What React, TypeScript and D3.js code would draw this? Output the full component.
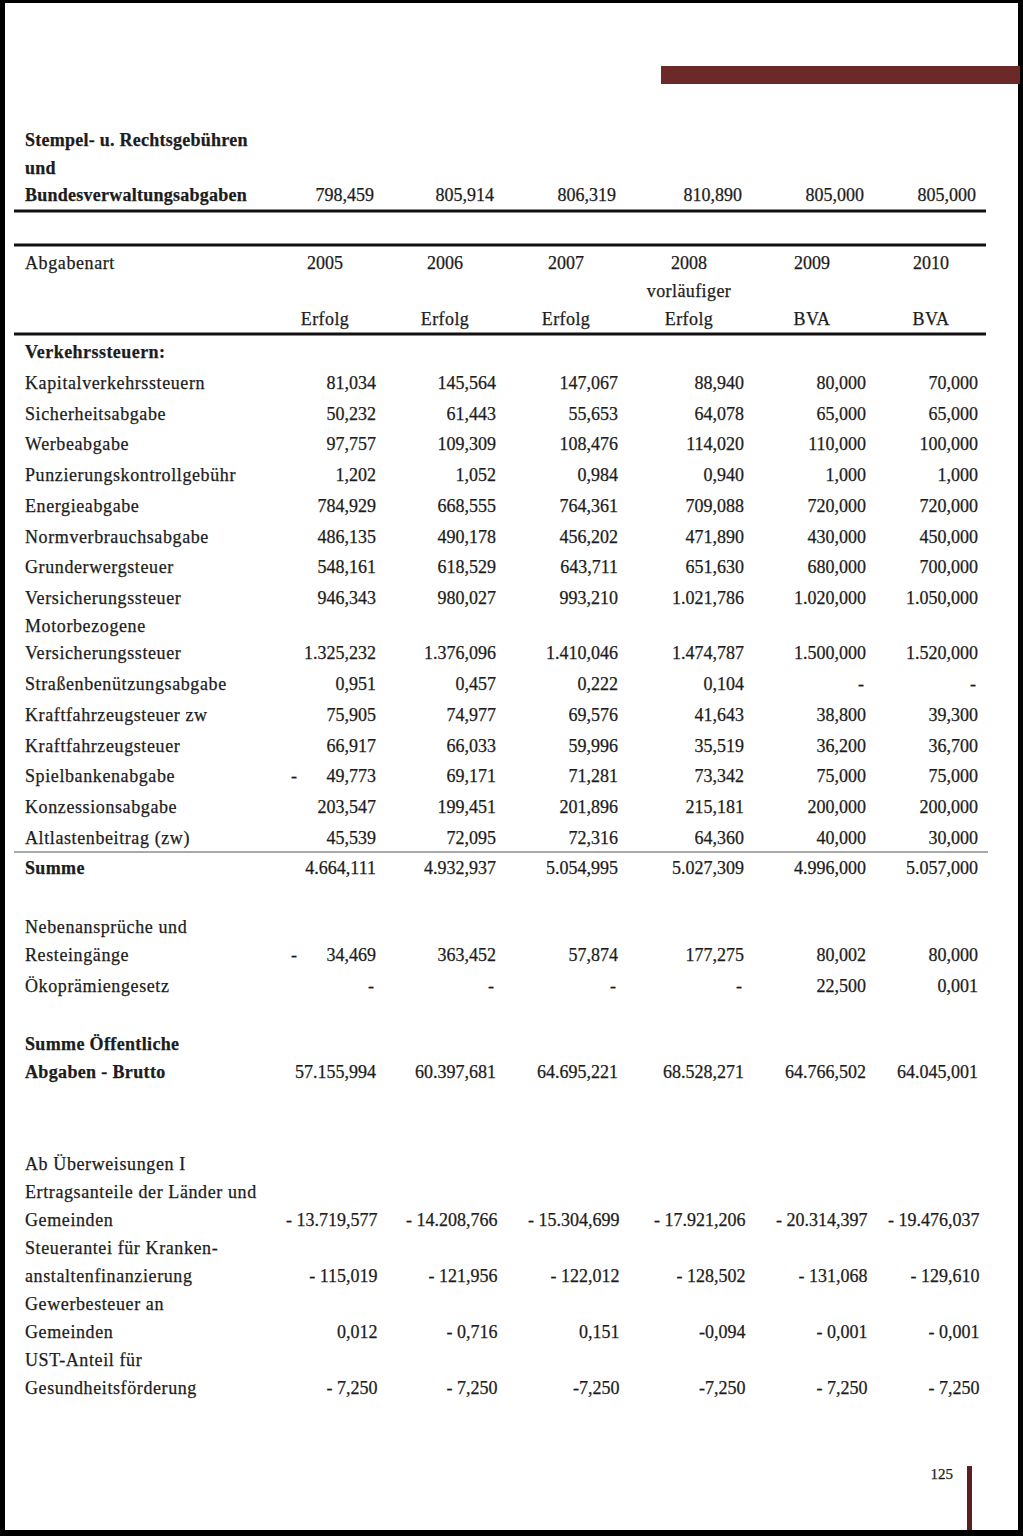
import React from "react";
import * as d3 from "d3";

const years = ["2005", "2006", "2007", "2008", "2009", "2010"];
const headerLine2 = ["", "", "", "vorläufiger", "", ""];
const headerLine3 = ["Erfolg", "Erfolg", "Erfolg", "Erfolg", "BVA", "BVA"];

const stempelLabel = ["Stempel- u. Rechtsgebühren", "und", "Bundesverwaltungsabgaben"];
const stempelValues = ["798,459", "805,914", "806,319", "810,890", "805,000", "805,000"];

const sectionTitle = "Verkehrssteuern:";
const verkehrLabels = [
  ["Kapitalverkehrssteuern"],
  ["Sicherheitsabgabe"],
  ["Werbeabgabe"],
  ["Punzierungskontrollgebühr"],
  ["Energieabgabe"],
  ["Normverbrauchsabgabe"],
  ["Grunderwergsteuer"],
  ["Versicherungssteuer"],
  ["Motorbezogene", "Versicherungssteuer"],
  ["Straßenbenützungsabgabe"],
  ["Kraftfahrzeugsteuer zw"],
  ["Kraftfahrzeugsteuer"],
  ["Spielbankenabgabe"],
  ["Konzessionsabgabe"],
  ["Altlastenbeitrag (zw)"],
];
const verkehrValues = [
  ["81,034", "145,564", "147,067", "88,940", "80,000", "70,000"],
  ["50,232", "61,443", "55,653", "64,078", "65,000", "65,000"],
  ["97,757", "109,309", "108,476", "114,020", "110,000", "100,000"],
  ["1,202", "1,052", "0,984", "0,940", "1,000", "1,000"],
  ["784,929", "668,555", "764,361", "709,088", "720,000", "720,000"],
  ["486,135", "490,178", "456,202", "471,890", "430,000", "450,000"],
  ["548,161", "618,529", "643,711", "651,630", "680,000", "700,000"],
  ["946,343", "980,027", "993,210", "1.021,786", "1.020,000", "1.050,000"],
  ["1.325,232", "1.376,096", "1.410,046", "1.474,787", "1.500,000", "1.520,000"],
  ["0,951", "0,457", "0,222", "0,104", "-", "-"],
  ["75,905", "74,977", "69,576", "41,643", "38,800", "39,300"],
  ["66,917", "66,033", "59,996", "35,519", "36,200", "36,700"],
  ["-|49,773", "69,171", "71,281", "73,342", "75,000", "75,000"],
  ["203,547", "199,451", "201,896", "215,181", "200,000", "200,000"],
  ["45,539", "72,095", "72,316", "64,360", "40,000", "30,000"],
];

const summeLabel = "Summe";
const summeValues = ["4.664,111", "4.932,937", "5.054,995", "5.027,309", "4.996,000", "5.057,000"];

const nebenLabels = [["Nebenansprüche und", "Resteingänge"], ["Ökoprämiengesetz"]];
const nebenValues = [
  ["-|34,469", "363,452", "57,874", "177,275", "80,002", "80,000"],
  ["-", "-", "-", "-", "22,500", "0,001"],
];

const bruttoLabel = ["Summe Öffentliche", "Abgaben - Brutto"];
const bruttoValues = ["57.155,994", "60.397,681", "64.695,221", "68.528,271", "64.766,502", "64.045,001"];

const abLabels = [
  ["Ab Überweisungen I", "Ertragsanteile der Länder und", "Gemeinden"],
  ["Steuerantei für Kranken-", "anstaltenfinanzierung"],
  ["Gewerbesteuer an", "Gemeinden"],
  ["UST-Anteil für", "Gesundheitsförderung"],
];
const abValues = [
  ["- 13.719,577", "- 14.208,766", "- 15.304,699", "- 17.921,206", "- 20.314,397", "- 19.476,037"],
  ["- 115,019", "- 121,956", "- 122,012", "- 128,502", "- 131,068", "- 129,610"],
  ["0,012", "- 0,716", "0,151", "-0,094", "- 0,001", "- 0,001"],
  ["- 7,250", "- 7,250", "-7,250", "-7,250", "- 7,250", "- 7,250"],
];

const pageNumber = "125";

const W = 1023;
const H = 1536;
const FONT = "'Liberation Serif', 'Times New Roman', serif";
const INK = "#1c1c1c";
const FS = 18;
const LABEL_X = 25;
const LABEL_SPACING = 0.6;

const colRight = d3.scaleOrdinal<string, number>().domain(years).range([376, 496, 618, 744, 866, 978]);
const headerCenter = d3.scaleOrdinal<string, number>().domain(years).range([325, 445, 566, 689, 812, 931]);

function ValueCell({ x, y, text }: { x: number; y: number; text: string }) {
  if (text.includes("|")) {
    const [a, b] = text.split("|");
    return (
      <g>
        <text x={x - 82} y={y} textAnchor="middle">{a}</text>
        <text x={x} y={y} textAnchor="end">{b}</text>
      </g>
    );
  }
  return <text x={text === "-" ? x - 2 : x} y={y} textAnchor="end">{text}</text>;
}

function Row({ labels, values, yStart, lineStep, bold, dx = 0 }: { labels: string[]; values: string[]; yStart: number; lineStep: number; bold?: boolean; dx?: number }) {
  const lastY = yStart + (labels.length - 1) * lineStep;
  return (
    <g>
      {labels.map((l, i) => (
        <text key={i} x={LABEL_X} y={yStart + i * lineStep} fontWeight={bold ? "bold" : "normal"} letterSpacing={bold ? 0.35 : LABEL_SPACING}>{l}</text>
      ))}
      {values.map((v, i) => (
        <ValueCell key={i} x={colRight(years[i]) + dx} y={lastY} text={v} />
      ))}
    </g>
  );
}

export default function App() {
  const rowStep = 30.7;
  const lineStep = 28;
  let yv = 389;
  const verkehrY: number[] = [];
  verkehrLabels.forEach((lab, i) => {
    if (i > 0) yv += lab.length > 1 ? lineStep : rowStep;
    verkehrY.push(yv);
    yv += (lab.length - 1) * (lineStep - 0.5);
  });

  const abStart = 1170;
  const abY: number[] = [];
  let ya = abStart;
  abLabels.forEach((lab) => {
    abY.push(ya);
    ya += lab.length * lineStep;
  });

  return (
    <svg width={W} height={H} style={{ position: "absolute", left: 0, top: 0 }} fontFamily={FONT} fontSize={FS} fill={INK} stroke={INK} strokeWidth={0.25}>
      <rect x={0} y={0} width={W} height={H} fill="#000" stroke="none" />
      <rect x={5} y={3} width={1013} height={1527} fill="#fff" stroke="none" />
      <rect x={661} y={66} width={359} height={18} fill="#6b2a27" stroke="none" />
      <rect x={967} y={1466} width={5} height={64} fill="#5c2020" stroke="none" />
      <text x={953} y={1479} textAnchor="end" fontSize={15}>{pageNumber}</text>

      <g fontWeight="bold">
        {stempelLabel.map((l, i) => (
          <text key={i} x={LABEL_X} y={146 + i * 27.5} letterSpacing={0.25}>{l}</text>
        ))}
      </g>
      {stempelValues.map((v, i) => (
        <text key={i} x={colRight(years[i]) - 2} y={201} textAnchor="end">{v}</text>
      ))}
      <line x1={14} x2={986} y1={211} y2={211} stroke="#111" strokeWidth={3} />

      <line x1={14} x2={986} y1={245} y2={245} stroke="#111" strokeWidth={3} />
      <text x={LABEL_X} y={269} letterSpacing={LABEL_SPACING}>Abgabenart</text>
      {years.map((yr, i) => (
        <g key={yr}>
          <text x={headerCenter(yr)} y={269} textAnchor="middle">{yr}</text>
          {headerLine2[i] && <text x={headerCenter(yr)} y={297} textAnchor="middle" letterSpacing={0.4}>{headerLine2[i]}</text>}
          <text x={headerCenter(yr)} y={325} textAnchor="middle" letterSpacing={0.4}>{headerLine3[i]}</text>
        </g>
      ))}
      <line x1={14} x2={986} y1={334} y2={334} stroke="#111" strokeWidth={3} />

      <text x={LABEL_X} y={358} fontWeight="bold" letterSpacing={0.45}>{sectionTitle}</text>
      {verkehrLabels.map((lab, i) => (
        <Row key={i} labels={lab} values={verkehrValues[i]} yStart={verkehrY[i]} lineStep={lineStep - 0.5} />
      ))}
      <line x1={14} x2={988} y1={852} y2={852} stroke="#555" strokeWidth={1.2} />
      <Row labels={[summeLabel]} values={summeValues} yStart={874} lineStep={lineStep} bold />

      <Row labels={nebenLabels[0]} values={nebenValues[0]} yStart={933} lineStep={lineStep} />
      <Row labels={nebenLabels[1]} values={nebenValues[1]} yStart={992} lineStep={lineStep} />

      <Row labels={bruttoLabel} values={bruttoValues} yStart={1050} lineStep={lineStep} bold />

      {abLabels.map((lab, i) => (
        <Row key={i} labels={lab} values={abValues[i]} yStart={abY[i]} lineStep={lineStep} dx={1.5} />
      ))}
    </svg>
  );
}
